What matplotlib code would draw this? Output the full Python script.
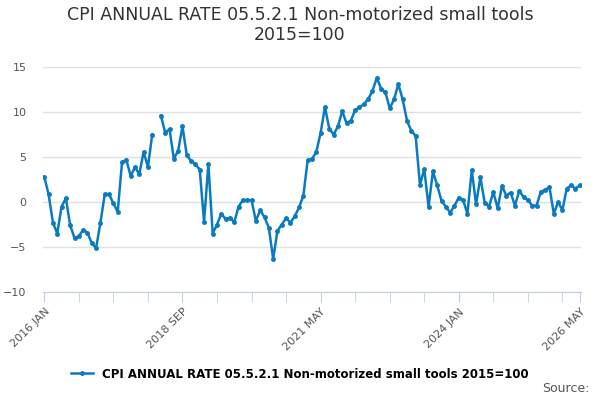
import numpy as np
import matplotlib
matplotlib.use("Agg")
import matplotlib.pyplot as plt

title = "CPI ANNUAL RATE 05.5.2.1 Non-motorized small tools 2015=100"
# monthly values, Jan 2016 .. May 2026 (Mar 2018 missing)
values = [
    2.8, 0.85, -2.3, -3.5, -0.5, 0.4, -2.6, -4.0, -3.8, -3.1, -3.4, -4.6, -5.1,
    -2.3, 0.85, 0.85, -0.15, -1.1, 4.4, 4.7, 2.9, 3.85, 3.1, 5.55, 3.9, 7.5,
    np.nan, 9.6, 7.7, 8.1, 4.8, 5.7, 8.4, 5.2, 4.55, 4.2, 3.6, -2.2, 4.2, -3.5,
    -2.5, -1.3, -1.9, -1.75, -2.25, -0.5, 0.2, 0.2, 0.2, -2.1, -0.9, -1.7, -2.85,
    -6.3, -3.2, -2.5, -1.8, -2.3, -1.6, -0.6, 0.7, 4.65, 4.8, 5.55, 7.7, 10.55,
    8.15, 7.5, 8.4, 10.1, 8.75, 9.05, 10.2, 10.55, 10.85, 11.45, 12.3, 13.8, 12.6,
    12.2, 10.4, 11.4, 13.1, 11.4, 9.05, 7.9, 7.35, 1.9, 3.65, -0.55, 3.4, 1.85,
    0.1, -0.5, -1.2, -0.4, 0.5, 0.2, -1.3, 3.55, -0.25, 2.75, -0.1, -0.5, 1.1,
    -0.7, 1.8, 0.7, 1.05, -0.4, 1.25, 0.55, 0.2, -0.4, -0.4, 1.15, 1.35, 1.65,
    -1.3, 0.0, -0.9, 1.5, 1.85, 1.5, 1.85,
]
tick_pos = [0, 32, 64, 96, 124]
tick_labels = ["2016 JAN", "2018 SEP", "2021 MAY", "2024 JAN", "2026 MAY"]
yticks = [-10, -5, 0, 5, 10, 15]

color = "#0a7bc1"
fig = plt.figure(figsize=(6, 4), dpi=100)
ax = fig.add_axes([43 / 600, 1 - 292 / 400, 538 / 600, 225 / 400])
months = np.arange(len(values))
ax.plot(months, values, color=color, lw=1.8, marker="o", ms=2.5,
        label=title)
ax.set_xlim(-0.3, 124.3)
ax.set_ylim(-10, 15)
ax.set_yticks(yticks)
ax.grid(axis="y", color="#e0e0e0", lw=1)
ax.set_axisbelow(True)
for s in ["top", "right", "left"]:
    ax.spines[s].set_visible(False)
ax.spines["bottom"].set_color("#c0d0e0")
ax.tick_params(axis="y", length=0, labelsize=8, colors="#555555", pad=12)
ax.set_xticks(tick_pos)
ax.set_xticklabels(tick_labels, rotation=45, ha="right", rotation_mode="anchor",
                   fontsize=8, color="#555555")
ax.set_xticks(np.arange(0, 125, 8), minor=True)
ax.tick_params(axis="x", which="both", length=7, color="#c0d0e0")
fig.text(0.5, 0.985, "CPI ANNUAL RATE 05.5.2.1 Non-motorized small tools\n2015=100",
         ha="center", va="top", fontsize=12.5, color="#333333", linespacing=1.15)
fig.legend(loc="center", bbox_to_anchor=(0.5, 0.065), frameon=False,
           fontsize=8.5, handlelength=1.8, prop={"weight": "bold", "size": 8.5})
fig.text(0.982, 0.012, "Source:", ha="right", va="bottom", fontsize=9, color="#555555")
fig.savefig("out.png", dpi=100)
